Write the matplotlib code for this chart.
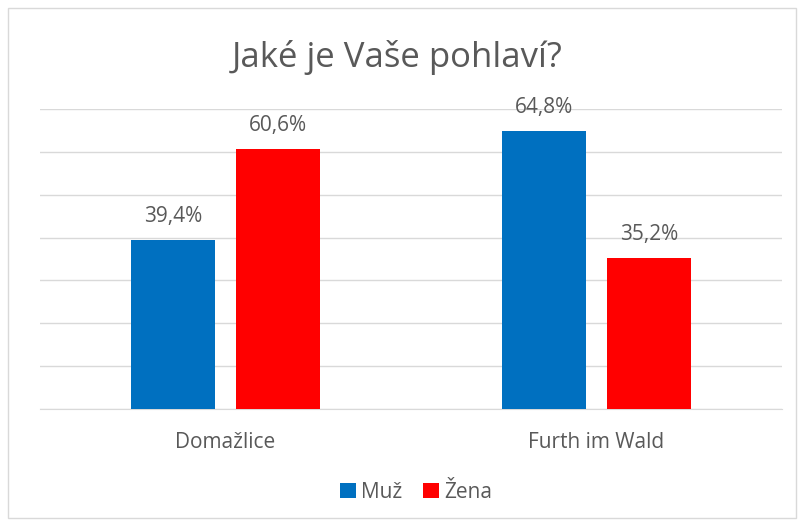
import numpy as np
import matplotlib.pyplot as plt
from matplotlib.patches import Rectangle

# Data
categories = ['Domažlice', 'Furth im Wald']
series_names = ['Muž', 'Žena']
muz = [39.4, 64.8]
zena = [60.6, 35.2]
colors = ['#0070C0', '#FF0000']

plt.rcParams['font.family'] = ['Open Sans', 'DejaVu Sans']
text_color = '#595959'

fig = plt.figure(figsize=(8, 5.24), dpi=100)
ax = fig.add_axes([0.05, 0.2195, 0.9275, 0.5725])

# Outer chart border
fig.patches.append(Rectangle((0.010, 0.012), 0.985, 0.972, transform=fig.transFigure,
                             fill=False, edgecolor='#D9D9D9', linewidth=1.0))

x = np.arange(len(categories))
width = 0.224
offset = 0.1415
for vals, name, col, off in zip([muz, zena], series_names, colors, [-offset, offset]):
    bars = ax.bar(x + off, vals, width, color=col, label=name, zorder=3)
    for b, v in zip(bars, vals):
        ax.text(b.get_x() + b.get_width() / 2, v + 3.0, f'{v:.1f}%'.replace('.', ','),
                ha='center', va='bottom', fontsize=15, color=text_color)

ax.set_xlim(-0.5, 1.5)
ax.set_ylim(0, 70)
ax.set_yticks(np.arange(0, 71, 10))
ax.yaxis.grid(True, color='#D9D9D9', linewidth=1.0, zorder=0)
ax.tick_params(axis='y', left=False, labelleft=False)
ax.tick_params(axis='x', bottom=False, colors=text_color, labelsize=15, pad=13)
ax.set_xticks(x)
ax.set_xticklabels(categories)
for s in ['top', 'right', 'left']:
    ax.spines[s].set_visible(False)
ax.spines['bottom'].set_color('#D9D9D9')

fig.text(0.497, 0.89, 'Jaké je Vaše pohlaví?', ha='center', va='center',
         fontsize=25, color=text_color)

leg = fig.legend(loc='center', bbox_to_anchor=(0.52, 0.06), ncol=2, frameon=False,
                 fontsize=15, handlelength=0.75, handleheight=0.75, handletextpad=0.25,
                 columnspacing=1.0)
for t in leg.get_texts():
    t.set_color(text_color)

fig.savefig('out.png', dpi=100)
